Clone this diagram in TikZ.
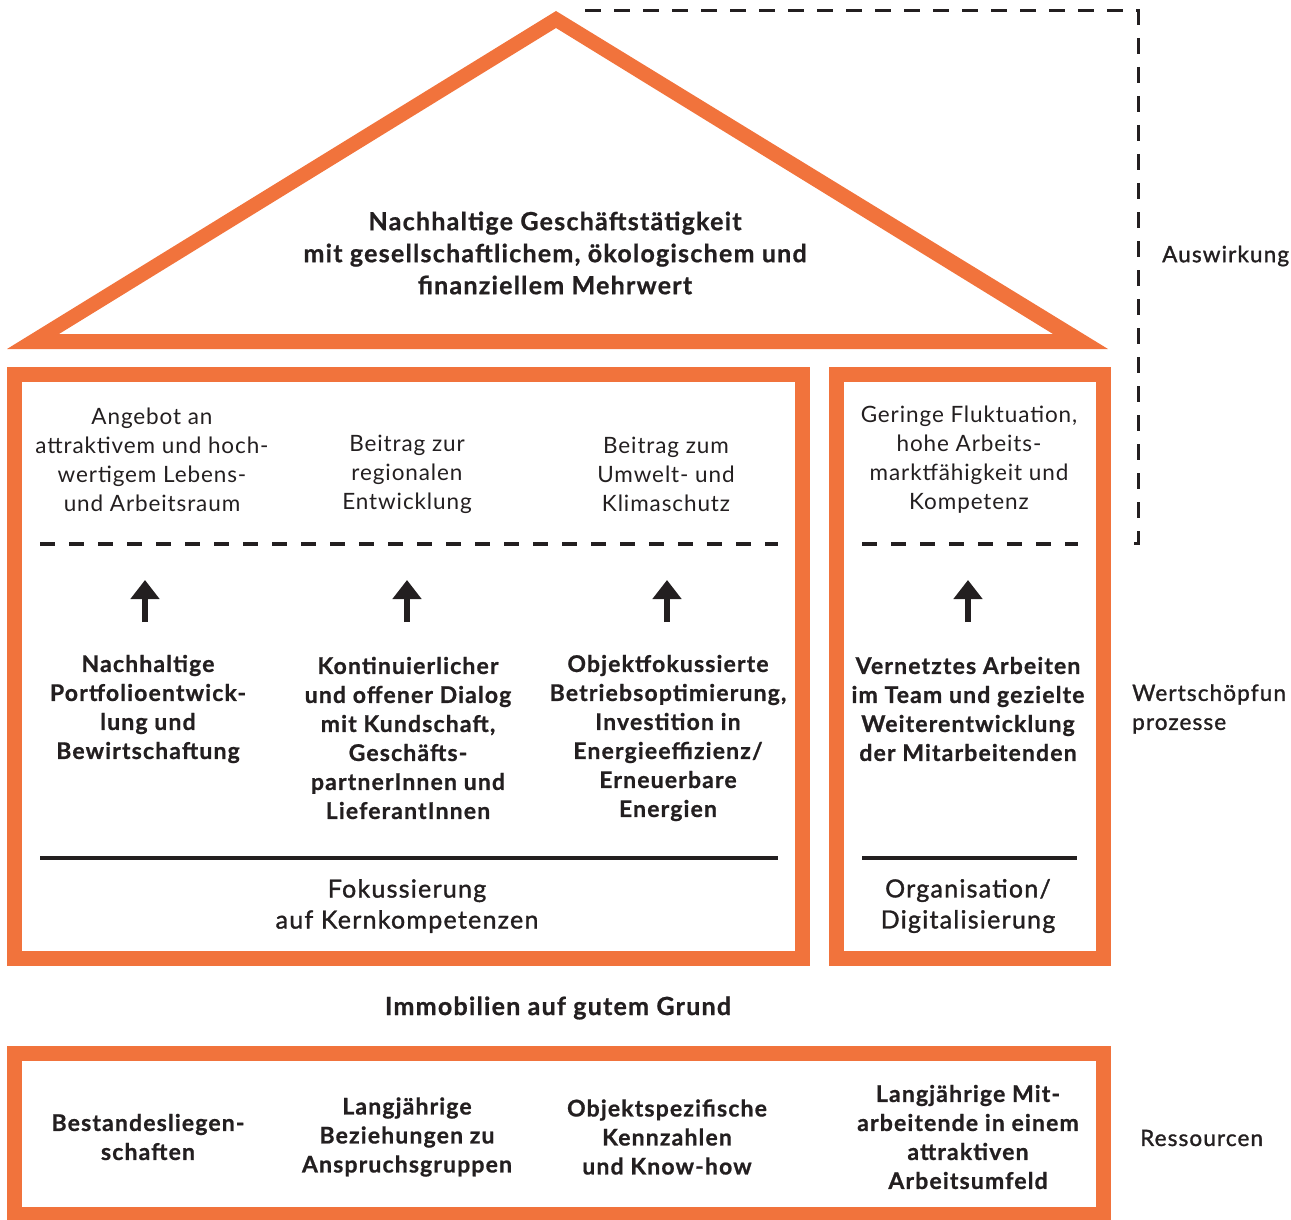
\documentclass[tikz,border=0pt]{standalone}
\usepackage{fontspec}
\setmainfont{Lato}[LetterSpace=4]
\newfontfamily\medfont{Lato}[FakeBold=1.3,LetterSpace=5]
\newfontfamily\boldfont{Lato}[LetterSpace=5,BoldFeatures={FakeBold=0.8}]
\usetikzlibrary{arrows.meta}
\definecolor{hausorange}{RGB}{241,115,60}
\definecolor{ink}{RGB}{35,31,32}
\begin{document}
\begin{tikzpicture}[x=1pt,y=-1pt,
  frame/.style={draw=hausorange,line width=15pt},
  sepdash/.style={draw=ink,line width=3.5pt,dash pattern=on 15pt off 14pt},
  bracketdash/.style={draw=ink,line width=3pt,dash pattern=on 16pt off 13pt},
  sepline/.style={draw=ink,line width=3.5pt},
  regtxt/.style={align=center,inner sep=0pt,text=ink,font=\fontsize{22.5}{29}\selectfont},
  boldtxt/.style={align=center,inner sep=0pt,text=ink,font=\fontsize{23}{29}\selectfont\boldfont\bfseries},
  medtxt/.style={align=center,inner sep=0pt,text=ink,font=\fontsize{25}{31}\selectfont\medfont},
  sidetxt/.style={align=left,anchor=west,inner sep=0pt,text=ink,font=\fontsize{22.5}{29}\selectfont\medfont},
  uparrow/.style={draw=ink,line width=6.5pt,-{Triangle[width=28pt,length=19pt]}}
]
\useasboundingbox (0,0) rectangle (1291,1220);

% roof
\fill[hausorange,even odd rule]
  (7,349) -- (556,11) -- (1108,349) -- cycle
  (59,334) -- (556,28) -- (1053,334) -- cycle;
\node[boldtxt,font=\fontsize{25}{32}\selectfont\boldfont\bfseries] (rooftxt) at (555,253)
  {Nachhaltige Geschäftstätigkeit\\mit gesellschaftlichem, ökologischem und\\finanziellem Mehrwert};

% dashed bracket (Auswirkung)
\coordinate (bA) at (585,11);
\coordinate (bB) at (1138,11);
\coordinate (bC) at (1138,543);
\coordinate (bD) at (1125,543);
\draw[bracketdash] (bA) -- (bB) -- (bC) -- (bD);

% frames
\draw[frame] (14.5,374.5) rectangle (802.5,958.5);
\draw[frame] (836.5,374.5) rectangle (1103.5,958.5);
\draw[frame] (14.5,1053.5) rectangle (1103.5,1214.5);

% separators
\coordinate (d1a) at (40,544); \coordinate (d1b) at (778,544);
\coordinate (d2a) at (862,544); \coordinate (d2b) at (1078,544);
\draw[sepdash] (d1a) -- (d1b);
\draw[sepdash] (d2a) -- (d2b);
\coordinate (s1a) at (40,858); \coordinate (s1b) at (778,858);
\coordinate (s2a) at (862,858); \coordinate (s2b) at (1077,858);
\draw[sepline] (s1a) -- (s1b);
\draw[sepline] (s2a) -- (s2b);

% top (impact) texts
\node[regtxt] (t1) at (152,459.5) {Angebot an\\attraktivem und hoch-\\wertigem Lebens-\\und Arbeitsraum};
\node[regtxt] (t2) at (407,474) {Beitrag zur\\regionalen\\Entwicklung};
\node[regtxt] (t3) at (666,474) {Beitrag zum\\Umwelt- und\\Klimaschutz};
\node[regtxt] (t4) at (969,459.5) {Geringe Fluktuation,\\hohe Arbeits-\\marktfähigkeit und\\Kompetenz};

% arrows
\foreach \n/\x in {1/145,2/407,3/667,4/968}{
  \coordinate (as\n) at (\x,622);
  \coordinate (ae\n) at (\x,580);
  \draw[uparrow] (as\n) -- (ae\n);
}

% process texts
\node[boldtxt] (p1) at (148,709) {Nachhaltige\\Portfolioentwick-\\lung und\\Bewirtschaftung};
\node[boldtxt] (p2) at (408,738) {Kontinuierlicher\\und offener Dialog\\mit Kundschaft,\\Geschäfts-\\partnerInnen und\\LieferantInnen};
\node[boldtxt] (p3) at (668,738) {Objektfokussierte\\Betriebsoptimierung,\\Investition in\\Energieeffizienz/\\Erneuerbare\\Energien};
\node[boldtxt] (p4) at (968,709) {Vernetztes Arbeiten\\im Team und gezielte\\Weiterentwicklung\\der Mitarbeitenden};

% pillar base texts
\node[medtxt] (f1) at (407,906) {Fokussierung\\auf Kernkompetenzen};
\node[medtxt] (f2) at (968,906) {Organisation/\\Digitalisierung};

% foundation title
\node[boldtxt,font=\fontsize{25}{31}\selectfont\boldfont\bfseries] (grund) at (558,1008) {Immobilien auf gutem Grund};

% resources
\node[boldtxt] (r1) at (148,1137) {Bestandesliegen-\\schaften};
\node[boldtxt] (r2) at (407,1137) {Langjährige\\Beziehungen zu\\Anspruchsgruppen};
\node[boldtxt] (r3) at (667,1137) {Objektspezifische\\Kennzahlen\\und Know-how};
\node[boldtxt] (r4) at (968,1137) {Langjährige Mit-\\arbeitende in einem\\attraktiven\\Arbeitsumfeld};

% side labels
\node[sidetxt] (lA) at (1162,256) {Auswirkung};
\node[sidetxt] (lW) at (1132,709) {Wertschöpfun\\prozesse};
\node[sidetxt] (lR) at (1140,1138) {Ressourcen};
\end{tikzpicture}
\end{document}
